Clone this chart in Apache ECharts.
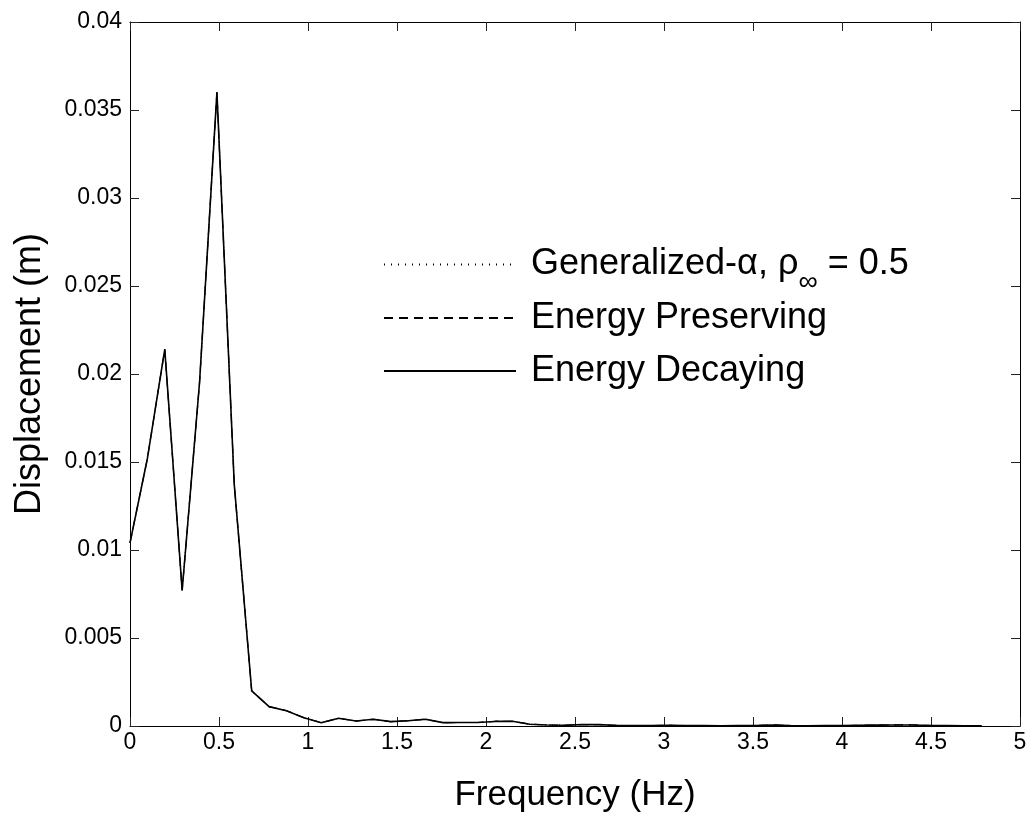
<!DOCTYPE html>
<html>
<head>
<meta charset="utf-8">
<script src="https://cdn.jsdelivr.net/npm/echarts@6/dist/echarts.min.js"></script>
<style>
html, body { margin: 0; padding: 0; background: #fff; }
#main { width: 1034px; height: 821px; }
</style>
</head>
<body>
<div id="main"></div>
<script>
// frequency bins (Hz)
var freqs = [0, 0.0977, 0.1953, 0.293, 0.3906, 0.4883, 0.5859, 0.6836, 0.7813, 0.8789,
  0.9766, 1.0742, 1.1719, 1.2695, 1.3672, 1.4648, 1.5625, 1.6602, 1.7578, 1.8555,
  1.9531, 2.0508, 2.1484, 2.2461, 2.3438, 2.4414, 2.5391, 2.6367, 2.7344, 2.832,
  2.9297, 3.0273, 3.125, 3.2227, 3.3203, 3.418, 3.5156, 3.6133, 3.7109, 3.8086,
  3.9063, 4.0039, 4.1016, 4.1992, 4.2969, 4.3945, 4.4922, 4.5898, 4.6875, 4.7852];

// displacement amplitude (m), the three schemes coincide at this scale
var dispGenAlpha = [0.0104, 0.0152, 0.0214, 0.0077, 0.0195, 0.0360, 0.0137, 0.0020, 0.0011, 0.00087,
  0.00047, 0.00019, 0.00044, 0.00028, 0.00038, 0.00025, 0.00030, 0.00038, 0.00019, 0.00020,
  0.00020, 0.00026, 0.00027, 0.00010, 0.00006, 0.00004, 0.00008, 0.00008, 0.00003, 0.00002,
  0.00002, 0.00004, 0.00002, 0.00002, 0.00001, 0.00002, 0.00003, 0.00006, 0.00002, 0.00001,
  0.00002, 0.00002, 0.00004, 0.00005, 0.00006, 0.00006, 0.00003, 0.00002, 0.00001, 0.00001];
var dispPreserving = dispGenAlpha.slice();
var dispDecaying = dispGenAlpha.slice();

var seriesNames = ['Generalized-α, ρ∞ = 0.5', 'Energy Preserving', 'Energy Decaying'];

function pairs(ys) {
  return freqs.map(function (f, i) { return [f, ys[i]]; });
}

var chart = echarts.init(document.getElementById('main'));
var font = 'Liberation Sans, Arial, Helvetica, sans-serif';

// fresh axis box styling for each axis (matlab-like: line all round, ticks inside)
function boxAxis(extra) {
  return Object.assign({
    axisLine: { show: true, onZero: false, lineStyle: { color: '#000', width: 1 } },
    axisTick: { show: true, inside: true, length: 9, lineStyle: { color: '#222', width: 1 } },
    splitLine: { show: false }
  }, extra);
}

function legendRow(name, top) {
  return {
    orient: 'vertical',
    left: 378,
    top: top,
    itemWidth: 132,
    itemHeight: 14,
    data: [name],
    itemStyle: { opacity: 0 },
    formatter: function (n) {
      if (n === seriesNames[0]) {
        return '{t|Generalized-α, ρ}{s|∞}{t| = 0.5}';
      }
      return '{t|' + n + '}';
    },
    textStyle: {
      color: '#000',
      fontFamily: font,
      fontSize: 36,
      padding: [0, 0, 0, 10],
      rich: {
        t: { fontSize: 36, fontFamily: font, color: '#000', lineHeight: 40 },
        s: { fontSize: 27, fontFamily: font, color: '#000', lineHeight: 40, padding: [36, 0, 0, 0] }
      }
    }
  };
}

option = {
  animation: false,
  backgroundColor: '#fff',
  grid: { left: 130, right: 14, top: 22, bottom: 95 },
  legend: [
    legendRow(seriesNames[0], 228),
    legendRow(seriesNames[1], 295),
    legendRow(seriesNames[2], 348)
  ],
  xAxis: [
    boxAxis({
      type: 'value', min: 0, max: 5, interval: 0.5, position: 'bottom',
      name: 'Frequency (Hz)', nameLocation: 'middle', nameGap: 52,
      nameTextStyle: { fontFamily: font, fontSize: 35, color: '#000' },
      axisLabel: { fontFamily: font, fontSize: 23, color: '#000', margin: 5 }
    }),
    boxAxis({
      type: 'value', min: 0, max: 5, interval: 0.5, position: 'top',
      axisLabel: { show: false }
    })
  ],
  yAxis: [
    boxAxis({
      type: 'value', min: 0, max: 0.04, interval: 0.005, position: 'left',
      name: 'Displacement (m)', nameLocation: 'middle', nameGap: 82,
      nameTextStyle: { fontFamily: font, fontSize: 36, color: '#000' },
      axisLabel: { fontFamily: font, fontSize: 23, color: '#000', margin: 8 }
    }),
    boxAxis({
      type: 'value', min: 0, max: 0.04, interval: 0.005, position: 'right',
      axisLabel: { show: false }
    })
  ],
  series: [
    {
      name: seriesNames[0], type: 'line', data: pairs(dispGenAlpha),
      symbol: 'none', lineStyle: { color: '#000', width: 1.2, type: [1, 6] }, itemStyle: { color: '#000' }
    },
    {
      name: seriesNames[1], type: 'line', data: pairs(dispPreserving),
      symbol: 'none', lineStyle: { color: '#000', width: 1.2, type: [9, 6] }, itemStyle: { color: '#000' }
    },
    {
      name: seriesNames[2], type: 'line', data: pairs(dispDecaying),
      symbol: 'none', lineStyle: { color: '#000', width: 1.6, type: 'solid' }, itemStyle: { color: '#000' }
    }
  ]
};

chart.setOption(option);
</script>
</body>
</html>
